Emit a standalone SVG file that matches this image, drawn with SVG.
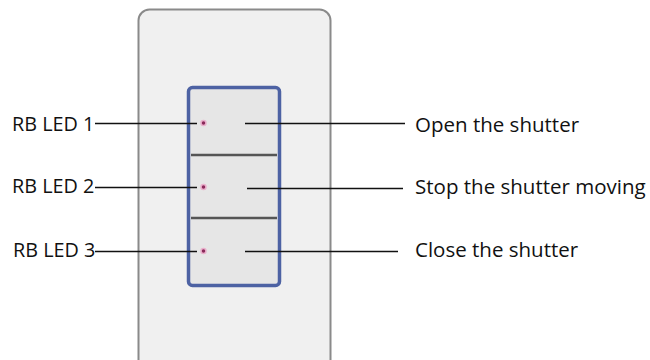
<svg xmlns="http://www.w3.org/2000/svg" width="650" height="360" viewBox="0 0 650 360">
<defs>
<style>
.lbl{font-family:"Open Sans","Noto Sans","Liberation Sans",sans-serif;font-size:19.8px;fill:#111}
.rl{font-size:20.5px}
.ln{stroke:#111;stroke-width:1.3;fill:none}
.led{fill:#8a2a5a;stroke:#eab0cc;stroke-width:1.5}
.div{stroke:#555;stroke-width:2.5}
</style>
</defs>
<rect width="650" height="360" fill="#fff"/>
<g id="plate">
<rect x="138.5" y="9.5" width="192" height="362" rx="11" fill="#f0f0f0" stroke="#8a8a8a" stroke-width="2"/>
</g>
<g id="buttons">
<rect x="188.5" y="87.5" width="91" height="198" rx="4" fill="#e6e6e6" stroke="#4d62a3" stroke-width="3.5"/>
<line class="div" x1="191" y1="155" x2="277" y2="155"/>
<line class="div" x1="191" y1="218" x2="277" y2="218"/>
</g>
<g id="led1"><circle class="led" cx="203.5" cy="123" r="2.5"/></g>
<g id="led2"><circle class="led" cx="203.5" cy="187" r="2.5"/></g>
<g id="led3"><circle class="led" cx="203.5" cy="251" r="2.5"/></g>
<g id="connectors">
<line class="ln" x1="95" y1="123.5" x2="197" y2="123.5"/>
<line class="ln" x1="95" y1="187.5" x2="197" y2="187.5"/>
<line class="ln" x1="95" y1="251.5" x2="197" y2="251.5"/>
<line class="ln" x1="245" y1="123.5" x2="405" y2="123.5"/>
<line class="ln" x1="247" y1="188.5" x2="403" y2="188.5"/>
<line class="ln" x1="245" y1="251.5" x2="398" y2="251.5"/>
</g>
<g id="label-led1"><text class="lbl" x="12" y="131">RB LED 1</text></g>
<g id="label-led2"><text class="lbl" x="12" y="193">RB LED 2</text></g>
<g id="label-led3"><text class="lbl" x="13" y="257">RB LED 3</text></g>
<g id="label-open"><text class="lbl rl" x="415" y="131.5">Open the shutter</text></g>
<g id="label-stop"><text class="lbl rl" x="415" y="194">Stop the shutter moving</text></g>
<g id="label-close"><text class="lbl rl" x="415" y="257">Close the shutter</text></g>
</svg>
